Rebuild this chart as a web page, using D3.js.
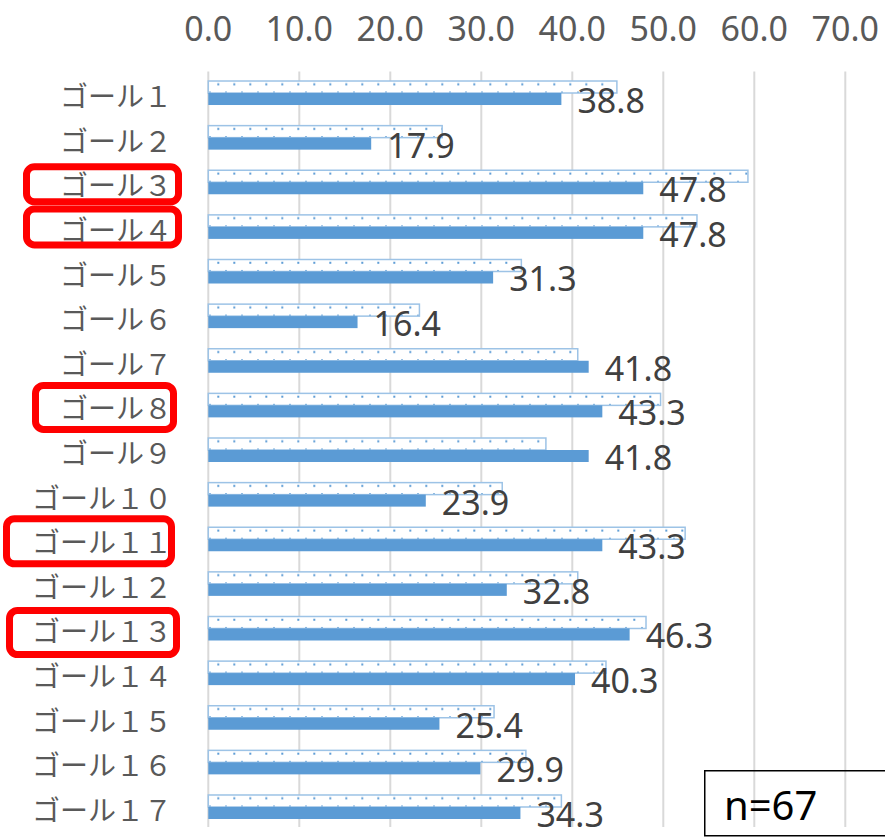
<!DOCTYPE html>
<html><head><meta charset="utf-8">
<script src="https://cdn.jsdelivr.net/npm/d3@7"></script>
<style>
html,body{margin:0;padding:0;background:#fff;}
svg{display:block;}
</style></head>
<body>
<svg id="chart" width="885" height="839"></svg>
<script>
const categories = ["ゴール１","ゴール２","ゴール３","ゴール４","ゴール５","ゴール６","ゴール７","ゴール８","ゴール９","ゴール１０","ゴール１１","ゴール１２","ゴール１３","ゴール１４","ゴール１５","ゴール１６","ゴール１７"];
const currentValues = [38.8,17.9,47.8,47.8,31.3,16.4,41.8,43.3,41.8,23.9,43.3,32.8,46.3,40.3,25.4,29.9,34.3];
const previousValues = [44.9,25.7,59.3,53.7,34.4,23.2,40.6,49.7,37.1,32.3,52.4,40.6,48.1,43.7,31.4,34.9,38.8];
const tickValues = [0,10,20,30,40,50,60,70];
const highlightedGoals = ["ゴール３","ゴール４","ゴール８","ゴール１１","ゴール１３"];
const sampleLabel = "n=67";

// annotation box geometry (per highlighted label)
const boxGeom = {
  "ゴール３": {x0:26.5, x1:178.5, h:35, dy:2},
  "ゴール４": {x0:26.5, x1:178.5, h:36, dy:0},
  "ゴール８": {x0:35.5, x1:173.5, h:44, dy:2},
  "ゴール１１": {x0:6.5, x1:171.5, h:45, dy:2},
  "ゴール１３": {x0:9.5, x1:176.5, h:44, dy:4}
};

const svg = d3.select("#chart");
const x = d3.scaleLinear().domain([0,70]).range([208.3,845.3]);
const y = d3.scaleBand().domain(categories).range([70.7,829.3]).padding(0);
const bw = y.bandwidth();
const barH = 12;

// pattern
const defs = svg.append("defs");
const pat = defs.append("pattern").attr("id","dots")
  .attr("patternUnits","userSpaceOnUse").attr("width",16).attr("height",16.8);
pat.append("rect").attr("width",16).attr("height",16.8).attr("fill","#fff");
pat.append("rect").attr("x",1).attr("y",4.2).attr("width",2).attr("height",2).attr("fill","#5b9bd5");
pat.append("rect").attr("x",9.3).attr("y",12.6).attr("width",2).attr("height",2).attr("fill","#5b9bd5");

// gridlines
svg.append("g").selectAll("line").data(tickValues).join("line")
  .attr("x1",d=>x(d)).attr("x2",d=>x(d))
  .attr("y1",71.5).attr("y2",827)
  .attr("stroke","#d9d9d9").attr("stroke-width",2);

// top tick labels
svg.append("g").selectAll("text").data(tickValues).join("text")
  .attr("x",d=>x(d)).attr("y",41)
  .attr("text-anchor","middle")
  .attr("font-family","'Noto Sans', sans-serif").attr("font-size",34)
  .attr("fill","#595959")
  .text(d=>d.toFixed(1));

// bars
const rows = svg.append("g").selectAll("g").data(categories).join("g")
  .attr("transform",d=>`translate(0,${y(d)})`);

rows.append("rect")
  .attr("x",x(0))
  .attr("y",bw/2 - barH)
  .attr("width",(d,i)=>x(previousValues[i]) - x(0))
  .attr("height",barH)
  .attr("fill","url(#dots)")
  .attr("stroke","#9dc3e6").attr("stroke-width",1.5);

rows.append("rect")
  .attr("x",x(0))
  .attr("y",bw/2)
  .attr("width",(d,i)=>x(currentValues[i]) - x(0))
  .attr("height",barH)
  .attr("fill","#5b9bd5");

rows.append("text")
  .attr("x",(d,i)=>x(currentValues[i]) + 16)
  .attr("y",bw/2 + barH/2 + 14)
  .attr("font-family","'Noto Sans', sans-serif").attr("font-size",34)
  .attr("fill","#404040")
  .text((d,i)=>currentValues[i].toFixed(1));

// category labels
svg.append("g").selectAll("text").data(categories).join("text")
  .attr("x",172)
  .attr("y",d=>y(d)+bw/2+14)
  .attr("text-anchor","end")
  .attr("font-family","'Noto Sans CJK JP', sans-serif").attr("font-size",28)
  .attr("fill","#595959")
  .text(d=>d);

// highlight boxes
svg.append("g").selectAll("rect").data(highlightedGoals).join("rect")
  .attr("x",d=>boxGeom[d].x0)
  .attr("width",d=>boxGeom[d].x1-boxGeom[d].x0)
  .attr("y",d=>y(d)+bw/2+boxGeom[d].dy-boxGeom[d].h/2)
  .attr("height",d=>boxGeom[d].h)
  .attr("rx",8).attr("ry",8)
  .attr("fill","none").attr("stroke","#ff0000").attr("stroke-width",7);

// n box
svg.append("rect").attr("x",704.75).attr("y",770.75).attr("width",220).attr("height",65)
  .attr("fill","none").attr("stroke","#000").attr("stroke-width",1.5);
svg.append("text").attr("x",724).attr("y",820)
  .attr("font-family","'Noto Sans', sans-serif").attr("font-size",40)
  .attr("fill","#000").text(sampleLabel);
</script>
</body></html>
